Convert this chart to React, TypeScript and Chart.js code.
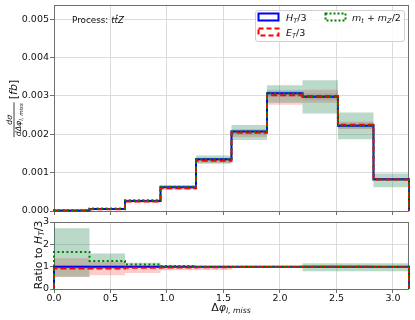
import React, { useEffect, useRef } from "react";
import { Chart, registerables } from "chart.js";
Chart.register(...registerables);

// ---------- data ----------
const binEdges = [0, 0.3142, 0.6283, 0.9425, 1.2566, 1.5708, 1.885, 2.1991, 2.5133, 2.8274, 3.1416];

const htValues = [0.00001, 0.00005, 0.00026, 0.00062, 0.00135, 0.00207, 0.00307, 0.00298, 0.00222, 0.00083];
const htLow = [0.000009, 0.000048, 0.000252, 0.0006, 0.00131, 0.00201, 0.00298, 0.00289, 0.00215, 0.0008];
const htHigh = [0.000011, 0.000052, 0.000268, 0.00064, 0.00139, 0.00213, 0.00316, 0.00307, 0.00229, 0.00086];

const etValues = [0.0000092, 0.000047, 0.000245, 0.00059, 0.00131, 0.00204, 0.00302, 0.003, 0.00225, 0.00082];
const etLow = [0.000005, 0.000031, 0.000215, 0.000545, 0.001225, 0.00193, 0.00277, 0.00282, 0.00214, 0.00078];
const etHigh = [0.0000127, 0.000056, 0.000262, 0.00062, 0.00137, 0.00212, 0.00313, 0.00316, 0.00233, 0.00086];

const mtValues = [0.0000166, 0.0000625, 0.000278, 0.000635, 0.00135, 0.00207, 0.00306, 0.00299, 0.00222, 0.00082];
const mtLow = [0.000005, 0.000043, 0.000245, 0.00059, 0.00125, 0.00185, 0.00282, 0.00254, 0.00187, 0.00062];
const mtHigh = [0.000027, 0.00008, 0.0003, 0.00068, 0.00145, 0.00224, 0.00328, 0.00341, 0.00257, 0.00098];

const ratioHt = [1, 1, 1, 1, 1, 1, 1, 1, 1, 1];
const ratioHtLow = [0.92, 0.96, 0.97, 0.97, 0.97, 0.97, 0.97, 0.97, 0.97, 0.96];
const ratioHtHigh = [1.08, 1.04, 1.03, 1.03, 1.03, 1.03, 1.03, 1.03, 1.03, 1.04];

const ratioEt = [0.92, 0.92, 0.95, 0.96, 0.97, 0.99, 0.985, 1.0, 1.0, 0.99];
const ratioEtLow = [0.54, 0.62, 0.72, 0.84, 0.85, 0.95, 0.95, 0.97, 0.97, 0.97];
const ratioEtHigh = [1.38, 1.22, 1.06, 1.02, 1.02, 1.02, 1.02, 1.02, 1.02, 1.02];

const ratioMt = [1.66, 1.25, 1.1, 1.03, 1.0, 1.0, 1.0, 1.0, 1.0, 0.99];
const ratioMtLow = [0.55, 0.9, 0.98, 0.98, 0.97, 0.97, 0.97, 0.8, 0.8, 0.8];
const ratioMtHigh = [2.72, 1.59, 1.17, 1.06, 1.03, 1.03, 1.03, 1.15, 1.15, 1.15];

const topYTicks = [0, 0.001, 0.002, 0.003, 0.004, 0.005];
const topYMax = 0.00537;
const ratioYMax = 3;

// ---------- styling ----------
const FAM = "'DejaVu Sans'";
const BLUE = "#0000ff";
const RED = "#ff0000";
const GREEN = "#008000";
const BAND_BLUE = "rgba(0,0,255,0.12)";
const BAND_RED = "rgba(255,0,0,0.2)";
const BAND_GREEN = "rgba(46,139,87,0.33)";
const GRID = "#dcdcdc";
const SPINE = "#707070";

type Seg = { t: string; it?: boolean; sub?: boolean; bar?: boolean };

function segFont(s: Seg, size: number) {
  const sz = s.sub ? size * 0.7 : size;
  return `${s.it ? "italic " : ""}${sz}px ${FAM}`;
}
function richWidth(ctx: CanvasRenderingContext2D, segs: Seg[], size: number) {
  let w = 0;
  for (const s of segs) {
    ctx.font = segFont(s, size);
    w += ctx.measureText(s.t).width;
  }
  return w;
}
function drawRich(ctx: CanvasRenderingContext2D, segs: Seg[], x: number, y: number, size: number, color = "#111") {
  ctx.fillStyle = color;
  ctx.textBaseline = "alphabetic";
  ctx.textAlign = "left";
  let cx = x;
  for (const s of segs) {
    ctx.font = segFont(s, size);
    const w = ctx.measureText(s.t).width;
    const dy = s.sub ? size * 0.22 : 0;
    ctx.fillText(s.t, cx, y + dy);
    if (s.bar) ctx.fillRect(cx + 1.5, y - size * 0.93, w - 1.5, 0.8);
    cx += w;
  }
  return cx - x;
}

function stepPoints(vals: number[], closed: boolean) {
  const pts: { x: number; y: number }[] = [];
  if (closed) pts.push({ x: binEdges[0], y: 0 });
  vals.forEach((v, i) => pts.push({ x: binEdges[i], y: v }));
  pts.push({ x: binEdges[binEdges.length - 1], y: closed ? 0 : vals[vals.length - 1] });
  return pts;
}

function lineDs(vals: number[], color: string, dash: number[], order: number) {
  return {
    data: stepPoints(vals, true),
    stepped: "before" as const,
    borderColor: color,
    borderWidth: 2,
    borderDash: dash,
    pointRadius: 0,
    fill: false,
    clip: false as any,
    order,
  };
}
function bandDs(lo: number[], hi: number[], color: string, order: number) {
  return [
    {
      data: stepPoints(hi, false),
      stepped: "before" as const,
      borderColor: "transparent",
      borderWidth: 0,
      pointRadius: 0,
      backgroundColor: color,
      fill: "+1",
      order,
    },
    {
      data: stepPoints(lo, false),
      stepped: "before" as const,
      borderColor: "transparent",
      borderWidth: 0,
      pointRadius: 0,
      fill: false,
      order: order + 1,
    },
  ];
}

const framePlugin = {
  id: "frame",
  beforeDatasetsDraw(chart: any) {
    const { ctx, chartArea: a } = chart;
    ctx.save();
    ctx.strokeStyle = SPINE;
    ctx.lineWidth = 1;
    ctx.strokeRect(Math.round(a.left) + 0.5, Math.round(a.top) + 0.5, Math.round(a.right - a.left) - 1, Math.round(a.bottom - a.top));
    ctx.restore();
  },
};

const topTextPlugin = {
  id: "topText",
  afterDraw(chart: any) {
    const ctx: CanvasRenderingContext2D = chart.ctx;
    ctx.save();
    // Process label
    drawRich(ctx, [{ t: "Process: " }, { t: "t", it: true }, { t: "t", it: true, bar: true }, { t: "Z", it: true }], 72, 23, 8.8);

    // legend
    const lx = 255, ly = 10, lw = 149, lh = 31;
    ctx.fillStyle = "rgba(255,255,255,0.85)";
    ctx.strokeStyle = "#d0d0d0";
    ctx.lineWidth = 1;
    ctx.beginPath();
    (ctx as any).roundRect(lx + 0.5, ly + 0.5, lw, lh, 2.5);
    ctx.fill();
    ctx.stroke();
    const patch = (x: number, y: number, color: string, dash: number[]) => {
      ctx.save();
      ctx.strokeStyle = color;
      ctx.lineWidth = 2;
      ctx.setLineDash(dash);
      ctx.strokeRect(x, y, 20, 7);
      ctx.restore();
    };
    patch(258.5, 13.5, BLUE, []);
    patch(325.5, 13.5, GREEN, [2, 2]);
    patch(258.5, 28.5, RED, [5, 3]);
    drawRich(ctx, [{ t: "H", it: true }, { t: "T", it: true, sub: true }, { t: "/3" }], 286, 21, 9.5);
    drawRich(ctx, [{ t: "m", it: true }, { t: "t", it: true, sub: true }, { t: " + " }, { t: "m", it: true }, { t: "Z", it: true, sub: true }, { t: "/2" }], 352, 21, 9.5);
    drawRich(ctx, [{ t: "E", it: true }, { t: "T", it: true, sub: true }, { t: "/3" }], 286, 36, 9.5);

    // y title: dσ / dΔφ_{l,miss} [fb]
    const fs = 7.8;
    const num: Seg[] = [{ t: "d", it: true }, { t: "σ", it: true }];
    const den: Seg[] = [{ t: "dΔ", it: true }, { t: "φ", it: true }, { t: "l, miss", it: true, sub: true }];
    const fb: Seg[] = [{ t: "[" }, { t: "fb", it: true }, { t: "]" }];
    const wn = richWidth(ctx, num, fs);
    const wd = richWidth(ctx, den, fs);
    const wf = Math.max(wn, wd) + 2;
    const wfb = richWidth(ctx, fb, 11);
    const total = wf + 3 + wfb;
    ctx.translate(14, 108.5);
    ctx.rotate(-Math.PI / 2);
    const x0 = -total / 2;
    drawRich(ctx, num, x0 + (wf - wn) / 2, -1.8, fs);
    ctx.fillStyle = "#111";
    ctx.fillRect(x0, -0.4, wf, 0.8);
    drawRich(ctx, den, x0 + (wf - wd) / 2, 7.2, fs);
    drawRich(ctx, fb, x0 + wf + 3, 3.2, 11);
    ctx.restore();
  },
};

const bottomTextPlugin = {
  id: "bottomText",
  afterDraw(chart: any) {
    const ctx: CanvasRenderingContext2D = chart.ctx;
    ctx.save();
    // x title
    const xt: Seg[] = [{ t: "Δ" }, { t: "φ", it: true }, { t: "l, miss", it: true, sub: true }];
    const w = richWidth(ctx, xt, 11);
    drawRich(ctx, xt, 231 - w / 2, 96, 11);
    // y title
    const yt: Seg[] = [{ t: "Ratio to " }, { t: "H", it: true }, { t: "T", it: true, sub: true }, { t: "/3" }];
    const wy = richWidth(ctx, yt, 10.8);
    ctx.translate(42, 40);
    ctx.rotate(-Math.PI / 2);
    drawRich(ctx, yt, -wy / 2, 0, 10.8);
    ctx.restore();
  },
};

const tickFont = { family: FAM, size: 9.5 };

export default function App() {
  const topRef = useRef<HTMLCanvasElement>(null);
  const botRef = useRef<HTMLCanvasElement>(null);

  useEffect(() => {
    const top = new Chart(topRef.current!, {
      type: "line",
      data: {
        datasets: [
          lineDs(mtValues, GREEN, [2, 2.5], 0),
          lineDs(etValues, RED, [6, 3], 1),
          lineDs(htValues, BLUE, [], 2),
          ...bandDs(mtLow, mtHigh, BAND_GREEN, 10),
          ...bandDs(etLow, etHigh, BAND_RED, 12),
          ...bandDs(htLow, htHigh, BAND_BLUE, 14),
        ] as any,
      },
      options: {
        animation: false,
        responsive: false,
        events: [],
        layout: { padding: { left: 0, right: 6, top: 5, bottom: 0 } },
        plugins: { legend: { display: false }, tooltip: { enabled: false } },
        scales: {
          x: {
            type: "linear",
            min: 0,
            max: binEdges[binEdges.length - 1],
            offset: false,
            border: { display: false },
            grid: { color: GRID, lineWidth: 1, tickLength: 4, tickColor: SPINE },
            ticks: { display: false, stepSize: 0.5, includeBounds: false },
            afterFit: (s: any) => {
              s.height = 4;
              s.paddingLeft = 0;
              s.paddingRight = 0;
            },
          },
          y: {
            type: "linear",
            min: 0,
            max: topYMax,
            border: { display: false },
            grid: { color: GRID, lineWidth: 1, tickLength: 4, tickColor: SPINE },
            afterBuildTicks: (s: any) => {
              s.ticks = topYTicks.map((v) => ({ value: v }));
            },
            ticks: {
              font: tickFont,
              color: "#111",
              padding: 1,
              callback: (v: any) => Number(v).toFixed(3),
            },
            afterFit: (s: any) => {
              s.width = 54;
              s.paddingTop = 0;
              s.paddingBottom = 0;
            },
          },
        },
      },
      plugins: [framePlugin, topTextPlugin],
    } as any);

    const bot = new Chart(botRef.current!, {
      type: "line",
      data: {
        datasets: [
          lineDs(ratioMt, GREEN, [2, 2.5], 0),
          lineDs(ratioEt, RED, [6, 3], 1),
          lineDs(ratioHt, BLUE, [], 2),
          ...bandDs(ratioMtLow, ratioMtHigh, BAND_GREEN, 10),
          ...bandDs(ratioEtLow, ratioEtHigh, BAND_RED, 12),
          ...bandDs(ratioHtLow, ratioHtHigh, BAND_BLUE, 14),
        ] as any,
      },
      options: {
        animation: false,
        responsive: false,
        events: [],
        layout: { padding: { left: 0, right: 6, top: 7, bottom: 0 } },
        plugins: { legend: { display: false }, tooltip: { enabled: false } },
        scales: {
          x: {
            type: "linear",
            min: 0,
            max: binEdges[binEdges.length - 1],
            offset: false,
            border: { display: false },
            grid: { color: GRID, lineWidth: 1, tickLength: 4, tickColor: SPINE },
            ticks: {
              stepSize: 0.5,
              includeBounds: false,
              font: tickFont,
              color: "#111",
              padding: 0,
              maxRotation: 0,
              callback: (v: any) => Number(v).toFixed(1),
            },
            afterFit: (s: any) => {
              s.height = 31;
              s.paddingLeft = 0;
              s.paddingRight = 0;
            },
          },
          y: {
            type: "linear",
            min: 0,
            max: ratioYMax,
            border: { display: false },
            grid: {
              color: GRID,
              lineWidth: 1,
              tickLength: 4,
              tickColor: (c: any) => (c.tick && c.tick.value % 1 === 0 ? SPINE : "transparent"),
            },
            ticks: {
              stepSize: 0.5,
              font: tickFont,
              color: "#111",
              padding: 1,
              callback: (v: any) => (Number(v) % 1 === 0 ? String(v) : ""),
            },
            afterFit: (s: any) => {
              s.width = 54;
              s.paddingTop = 0;
              s.paddingBottom = 0;
            },
          },
        },
      },
      plugins: [framePlugin, bottomTextPlugin],
    } as any);

    return () => {
      top.destroy();
      bot.destroy();
    };
  }, []);

  return (
    <div style={{ position: "absolute", left: 0, top: 0, width: 415, height: 320, background: "#fff" }}>
      <canvas ref={topRef} width={415} height={215} style={{ position: "absolute", left: 0, top: 0, width: 415, height: 215 }} />
      <canvas ref={botRef} width={415} height={105} style={{ position: "absolute", left: 0, top: 215, width: 415, height: 105 }} />
    </div>
  );
}
